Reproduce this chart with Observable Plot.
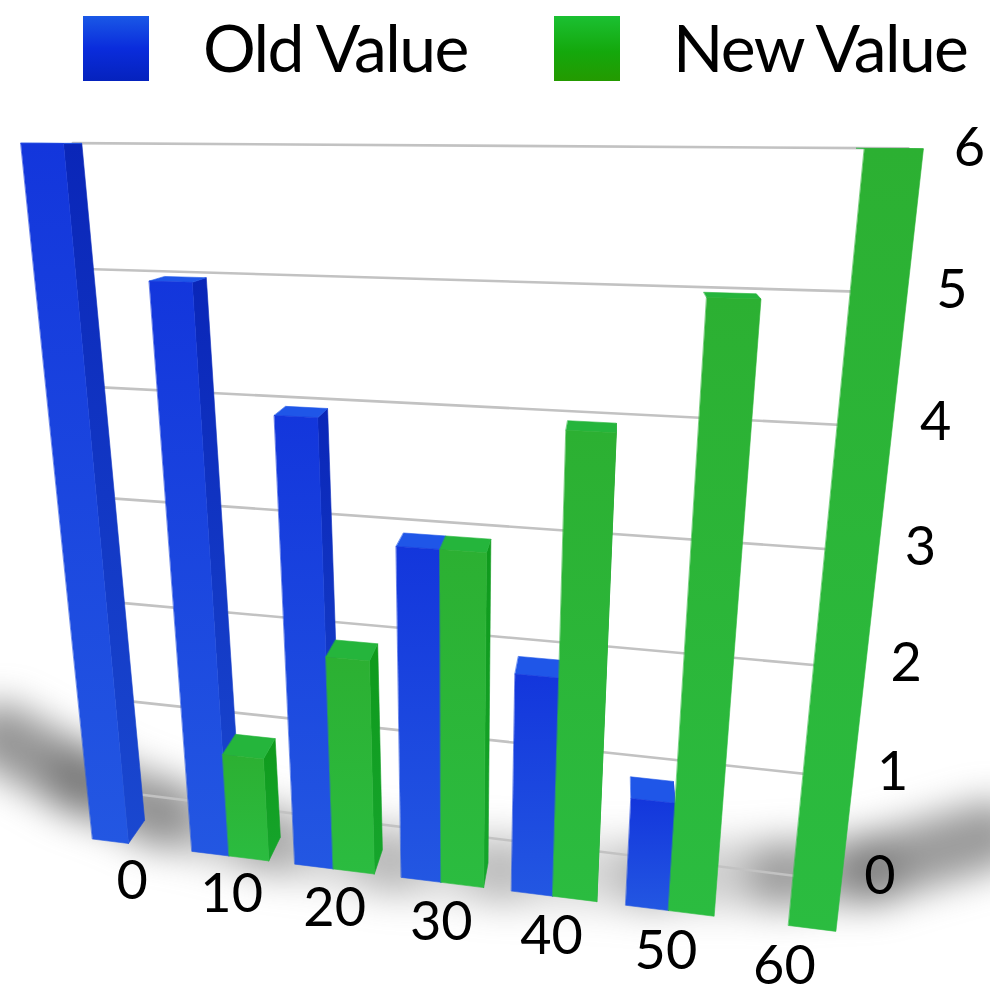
<!DOCTYPE html>
<html>
<head>
<meta charset="utf-8">
<script src="https://cdn.jsdelivr.net/npm/d3@7"></script>
<script src="https://cdn.jsdelivr.net/npm/@observablehq/plot@0.6"></script>
<style>
  html, body { margin: 0; padding: 0; background: #fff; overflow: hidden; }
  #legend { position: relative; width: 990px; height: 90px; font-family: Lato, sans-serif; color: #000; }
  #legend .swatch { position: absolute; top: 16px; width: 66px; height: 65px; }
  #legend .label { position: absolute; top: 4px; font-size: 66px; line-height: 86px; white-space: nowrap; letter-spacing: -1.6px; }
  #chart svg { display: block; }
</style>
</head>
<body>
<div id="legend">
  <div class="swatch" style="left:83px;background:linear-gradient(#1a58e6,#0a2cdc 50%,#0522bd)"></div>
  <div class="label" style="left:203px">Old Value</div>
  <div class="swatch" style="left:554px;background:linear-gradient(#1bc032,#14a80c 55%,#249a00)"></div>
  <div class="label" style="left:673px">New Value</div>
</div>
<div id="chart"></div>
<script>
// Series and axis values
const categories = [0, 10, 20, 30, 40, 50, 60];
const oldValues = [6, 5, 4, 3, 2, 1, 0];
const newValues = [0, 1, 2, 3, 4, 5, 6];
const valueTicks = [0, 1, 2, 3, 4, 5, 6];

// Floor shadow curve, in category-slot / value units, with its darkness along the way
const shadowSlot = [-1.48, -1.2, -0.43, 0.35, 1.41, 2.54, 3.53, 4.83, 5.9, 6.6, 7.47, 7.75];
const shadowLevel = [1.12, 0.94, 0.59, 0.35, 0.21, 0.155, 0.19, 0.31, 0.46, 0.6, 1.02, 1.2];
const shadowDarkness = [0.72, 0.72, 0.66, 0.46, 0.32, 0.26, 0.24, 0.26, 0.36, 0.6, 0.72, 0.72];

const legendHeight = 90;
const width = 990;
const height = 986 - legendHeight;

// Camera: where the front plane's corners land, and the depth vanishing point
const frontCorners = [[128, 843], [788, 925], [864, 148], [63, 143]];
const vanishing = [618, 140];
const depthStep = 0.033;
const barDepth = 1;
const wallDepth = 2;
const slotMax = 6;
const valueMax = 6;

function squareToQuad([[x0, y0], [x1, y1], [x2, y2], [x3, y3]]) {
  const dx1 = x1 - x2, dx2 = x3 - x2, sx = x0 - x1 + x2 - x3;
  const dy1 = y1 - y2, dy2 = y3 - y2, sy = y0 - y1 + y2 - y3;
  const den = dx1 * dy2 - dx2 * dy1;
  const g = (sx * dy2 - dx2 * sy) / den;
  const h = (dx1 * sy - sx * dy1) / den;
  return {
    a: x1 - x0 + g * x1, b: x3 - x0 + h * x3, c: x0,
    d: y1 - y0 + g * y1, e: y3 - y0 + h * y3, f: y0, g, h
  };
}
const H = squareToQuad(frontCorners);

// Perspective projection: x is the category slot, y the value, z the depth into the scene
const perspective = () => d3.geoTransform({
  point(u, v, z = 0) {
    const s = u / slotMax, t = v / valueMax;
    const w = H.g * s + H.h * t + 1;
    const x = (H.a * s + H.b * t + H.c) / w;
    const y = (H.d * s + H.e * t + H.f) / w;
    const k = depthStep * z;
    this.stream.point(x + (vanishing[0] - x) * k, y + (vanishing[1] - y) * k - legendHeight);
  }
});

// Visible faces of one bar spanning u0..u1, from the floor up to its value
function barFaces(u0, u1, value, palette) {
  const D = barDepth;
  const poly = (...pts) => ({type: "Polygon", coordinates: [[...pts, pts[0]]]});
  const faces = [];
  // Bars left of the vanishing point show their right side; the others keep it hidden
  if ((u0 + u1) / 2 < 5) {
    faces.push({geometry: poly([u1, 0, 0], [u1, 0, D], [u1, value, D], [u1, value, 0]), fill: palette.side});
  }
  faces.push({geometry: poly([u0, value, 0], [u1, value, 0], [u1, value, D], [u0, value, D]), fill: palette.top});
  faces.push({geometry: poly([u0, 0, 0], [u1, 0, 0], [u1, value, 0], [u0, value, 0]), fill: palette.front});
  return faces;
}

const bluePalette = {front: "url(#blueFront)", side: "url(#blueSide)", top: "#1f56e8"};
const greenPalette = {front: "url(#greenFront)", side: "url(#greenSide)", top: "#25b53c"};
const oldSpan = 0.365;
const newSpan = 0.385;

const faces = categories.flatMap((c, i) => [
  ...(oldValues[i] > 0 ? barFaces(i - oldSpan, i, oldValues[i], bluePalette) : []),
  ...(newValues[i] > 0 ? barFaces(i, i + newSpan, newValues[i], greenPalette) : [])
]);

const gridLines = valueTicks.map((v) => ({
  type: "LineString",
  coordinates: [[-0.25, v, wallDepth], [6.42, v, wallDepth]]
}));

// One short stroke per stretch of the curve, so the darkness can vary along it
const shadowPieces = shadowSlot.slice(1).map((u, i) => ({
  geometry: {
    type: "LineString",
    coordinates: [[shadowSlot[i], shadowLevel[i]], [u, shadowLevel[i + 1]]]
  },
  darkness: (shadowDarkness[i] + shadowDarkness[i + 1]) / 2
}));

// Value labels sit out on the back wall, which lifts the lower ones off the front plane
const tickLevel = (v) => v + 0.55 * (1 - v / valueMax);
const tickSlot = 6.68;

// Vertical gradients shared by the bar faces
function gradients() {
  const defs = d3.create("svg:defs");
  const stops = {
    blueFront: ["#1336dc", "#2357e2"],
    blueSide: ["#0a26b8", "#1a48d0"],
    greenFront: ["#2cb032", "#2bbc40"],
    greenSide: ["#0f9a1c", "#16a52c"]
  };
  for (const [id, [top, bottom]] of Object.entries(stops)) {
    const g = defs.append("linearGradient").attr("id", id).attr("x1", 0).attr("y1", 0).attr("x2", 0).attr("y2", 1);
    g.append("stop").attr("offset", 0).attr("stop-color", top);
    g.append("stop").attr("offset", 1).attr("stop-color", bottom);
  }
  return defs.node();
}

const chart = Plot.plot({
  width,
  height,
  margin: 0,
  projection: perspective,
  color: {type: "identity"},
  opacity: {type: "identity"},
  style: {background: "transparent", fontFamily: "Lato, sans-serif"},
  marks: [
    gradients,
    Plot.geo(shadowPieces, {
      geometry: (d) => d.geometry,
      stroke: "#666",
      strokeWidth: 68,
      fill: "none",
      strokeOpacity: (d) => d.darkness
    }),
    Plot.geo(gridLines, {stroke: "#c2c2c2", strokeWidth: 2.6, fill: "none"}),
    Plot.geo(faces, {geometry: (d) => d.geometry, fill: (d) => d.fill, stroke: (d) => d.fill, strokeWidth: 0.6}),
    Plot.text(categories, {
      x: (c, i) => i,
      y: () => -0.4,
      text: (c) => String(c),
      fontSize: 54,
      fill: "#000",
      letterSpacing: -1,
      textAnchor: "middle",
      lineAnchor: "middle"
    }),
    Plot.text(valueTicks, {
      x: () => tickSlot,
      y: tickLevel,
      text: (v) => String(v),
      fontSize: 54,
      fill: "#000",
      textAnchor: "middle",
      lineAnchor: "middle"
    })
  ]
});

// Soften the floor shadow
chart.querySelector('g[aria-label="geo"]').style.filter = "blur(18px)";

document.getElementById("chart").appendChild(chart);
</script>
</body>
</html>
